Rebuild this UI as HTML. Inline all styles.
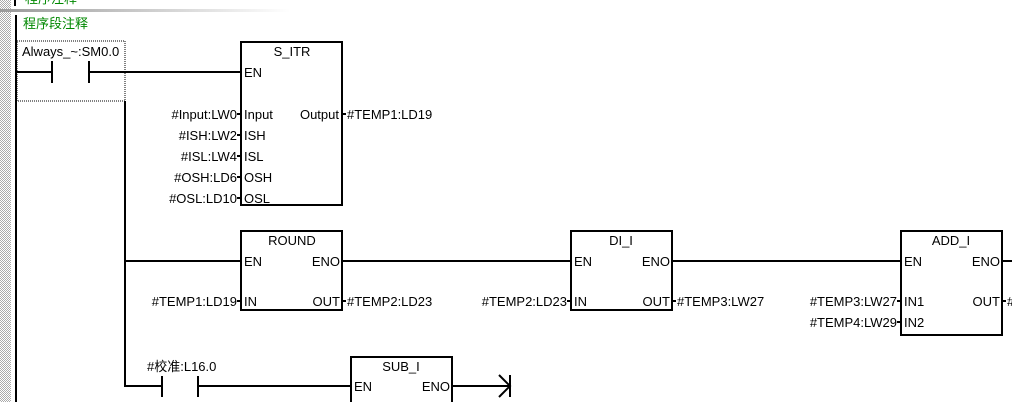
<!DOCTYPE html>
<html><head><meta charset="utf-8"><style>
html,body{margin:0;padding:0;background:#fff;width:1012px;height:402px;overflow:hidden}
svg{display:block}
text{font-family:"Liberation Sans","Noto Sans CJK SC",sans-serif;font-size:13px;fill:#000}
</style></head><body>
<svg width="1012" height="402" viewBox="0 0 1012 402" xmlns="http://www.w3.org/2000/svg">
<defs>
<pattern id="dots" width="2" height="2" patternUnits="userSpaceOnUse"><rect width="2" height="2" fill="#fff"/><rect width="1" height="1" fill="#aaa"/><rect x="1" y="1" width="1" height="1" fill="#aaa"/></pattern>
<linearGradient id="sep" x1="0" x2="1"><stop offset="0" stop-color="#999"/><stop offset="1" stop-color="#fff"/></linearGradient>
</defs>
<rect x="0" y="0" width="11" height="402" fill="url(#dots)"/>
<rect x="0" y="9" width="290" height="3" fill="url(#sep)"/>
<rect x="14" y="0" width="2" height="6" fill="#000"/>
<rect x="15" y="15" width="2" height="387" fill="#000"/>
<text x="25" y="3" style="fill:#080">程序注释</text>
<text x="23" y="28" style="fill:#080">程序段注释</text>
<g stroke="#000" stroke-width="2" fill="none">
<rect x="17" y="41" width="108" height="60" stroke="#000" stroke-width="1" stroke-dasharray="1,1"/>
<line x1="16" y1="72" x2="52" y2="72"/><line x1="52" y1="61" x2="52" y2="83"/>
<line x1="89" y1="61" x2="89" y2="83"/><line x1="89" y1="72" x2="241" y2="72"/>
<line x1="125" y1="101" x2="125" y2="387"/>
<rect x="241" y="42" width="101" height="163"/>
<line x1="237" y1="114" x2="241" y2="114"/><line x1="237" y1="135" x2="241" y2="135"/><line x1="237" y1="156" x2="241" y2="156"/><line x1="237" y1="177" x2="241" y2="177"/><line x1="237" y1="198" x2="241" y2="198"/>
<line x1="342" y1="114" x2="346" y2="114"/>
<line x1="125" y1="261" x2="241" y2="261"/>
<rect x="241" y="231" width="101" height="79"/>
<line x1="342" y1="261" x2="571" y2="261"/>
<line x1="237" y1="301" x2="241" y2="301"/><line x1="342" y1="301" x2="346" y2="301"/>
<rect x="571" y="231" width="101" height="79"/>
<line x1="567" y1="301" x2="571" y2="301"/><line x1="672" y1="301" x2="676" y2="301"/>
<line x1="672" y1="261" x2="901" y2="261"/>
<rect x="901" y="231" width="101" height="104"/>
<line x1="897" y1="301" x2="901" y2="301"/><line x1="897" y1="322" x2="901" y2="322"/><line x1="1002" y1="301" x2="1006" y2="301"/>
<line x1="1002" y1="261" x2="1012" y2="261"/>
<line x1="125" y1="386" x2="162" y2="386"/><line x1="162" y1="376" x2="162" y2="397"/>
<line x1="198" y1="376" x2="198" y2="397"/><line x1="198" y1="386" x2="351" y2="386"/>
<rect x="351" y="357" width="101" height="60"/>
<line x1="452" y1="386" x2="510" y2="386"/>
<polyline points="499,375 510,386 499,397"/><line x1="510" y1="375" x2="510" y2="397"/>
</g>
<text x="22" y="56">Always_~:SM0.0</text>
<text x="292" y="56" text-anchor="middle">S_ITR</text>
<text x="244" y="77">EN</text>
<text x="237" y="119" text-anchor="end">#Input:LW0</text><text x="244" y="119">Input</text>
<text x="237" y="140" text-anchor="end">#ISH:LW2</text><text x="244" y="140">ISH</text>
<text x="237" y="161" text-anchor="end">#ISL:LW4</text><text x="244" y="161">ISL</text>
<text x="237" y="182" text-anchor="end">#OSH:LD6</text><text x="244" y="182">OSH</text>
<text x="237" y="203" text-anchor="end">#OSL:LD10</text><text x="244" y="203">OSL</text>
<text x="339" y="119" text-anchor="end">Output</text><text x="347" y="119">#TEMP1:LD19</text>
<text x="292" y="245" text-anchor="middle">ROUND</text>
<text x="244" y="266">EN</text><text x="340" y="266" text-anchor="end">ENO</text>
<text x="237" y="306" text-anchor="end">#TEMP1:LD19</text><text x="244" y="306">IN</text>
<text x="340" y="306" text-anchor="end">OUT</text><text x="347" y="306">#TEMP2:LD23</text>
<text x="621" y="245" text-anchor="middle">DI_I</text>
<text x="574" y="266">EN</text><text x="670" y="266" text-anchor="end">ENO</text>
<text x="567" y="306" text-anchor="end">#TEMP2:LD23</text><text x="574" y="306">IN</text>
<text x="670" y="306" text-anchor="end">OUT</text><text x="677" y="306">#TEMP3:LW27</text>
<text x="951" y="245" text-anchor="middle">ADD_I</text>
<text x="904" y="266">EN</text><text x="1000" y="266" text-anchor="end">ENO</text>
<text x="897" y="306" text-anchor="end">#TEMP3:LW27</text><text x="904" y="306">IN1</text>
<text x="897" y="327" text-anchor="end">#TEMP4:LW29</text><text x="904" y="327">IN2</text>
<text x="1000" y="306" text-anchor="end">OUT</text><text x="1007" y="306">#</text>
<text x="147" y="371">#校准:L16.0</text>
<text x="401" y="371" text-anchor="middle">SUB_I</text>
<text x="354" y="391">EN</text><text x="450" y="391" text-anchor="end">ENO</text>
</svg>
</body></html>
